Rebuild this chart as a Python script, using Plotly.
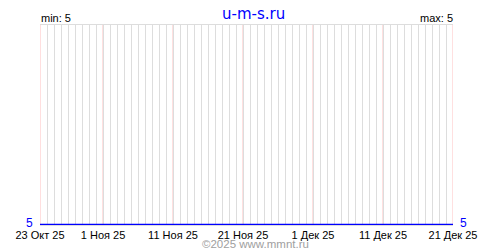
import plotly.graph_objects as go
import pandas as pd

# Data
dates = pd.date_range("2025-10-23", "2025-12-21", freq="D").strftime("%Y-%m-%d").tolist()
values = [5] * len(dates)
tick_vals = ["2025-10-23", "2025-11-01", "2025-11-11", "2025-11-21", "2025-12-01", "2025-12-11", "2025-12-21"]
tick_text = ["23 Окт 25", "1 Ноя 25", "11 Ноя 25", "21 Ноя 25", "1 Дек 25", "11 Дек 25", "21 Дек 25"]
title_text = "u-m-s.ru"
footer_text = "©2025 www.mmnt.ru"
v_min = min(values)
v_max = max(values)

FONT = "Liberation Sans, Arial, sans-serif"
BLUE = "#0000ff"
PINK = "#ffc0c0"
GRAY = "#dddddd"

fig = go.Figure()
fig.add_trace(go.Scatter(x=dates, y=values, mode="lines",
                         line=dict(color=BLUE, width=1.5), hoverinfo="skip"))

yrange = [v_min - 0.0025, v_min + 1]
xrange = [dates[0], dates[-1]]

# pink lines at labelled dates, placed through the x axis scale
for tv in tick_vals:
    fig.add_shape(type="line", xref="x", yref="paper", x0=tv, x1=tv, y0=0, y1=1,
                  line=dict(color=PINK, width=1), layer="below")

fig.update_layout(
    width=500, height=250,
    margin=dict(l=40, r=47, t=25, b=25, autoexpand=False),
    paper_bgcolor="white", plot_bgcolor="white",
    showlegend=False,
    font=dict(family=FONT, size=11, color="black"),
    xaxis=dict(
        type="date", range=xrange,
        tickvals=tick_vals, ticktext=tick_text,
        showgrid=True, gridcolor=GRAY, gridwidth=1,
        minor=dict(dtick=86400000, tick0=dates[0], showgrid=True, gridcolor=GRAY, gridwidth=1),
        showline=True, mirror=True, linecolor=GRAY, linewidth=1,
        ticks="", zeroline=False,
        tickfont=dict(family=FONT, size=11, color="black"),
        fixedrange=True,
    ),
    yaxis=dict(
        range=yrange, showticklabels=False,
        showgrid=False, zeroline=False, ticks="", fixedrange=True,
    ),
    annotations=[
        dict(text=title_text, x=0.5, y=1, xref="paper", yref="paper", xanchor="center", yanchor="top",
             xshift=7, yshift=22, showarrow=False,
             font=dict(family="DejaVu Sans, sans-serif", size=15, color=BLUE)),
        dict(text=f"min: {v_min}", x=0, y=1, xref="paper", yref="paper", xanchor="left", yanchor="bottom",
             showarrow=False, xshift=-1, yshift=-1,
             font=dict(family=FONT, size=11, color="black")),
        dict(text=f"max: {v_max}", x=1, y=1, xref="paper", yref="paper", xanchor="right", yanchor="bottom",
             showarrow=False, xshift=2, yshift=-1,
             font=dict(family=FONT, size=11, color="black")),
        dict(text=str(v_min), x=0, y=v_min, xref="paper", yref="y", xanchor="right", yanchor="middle",
             showarrow=False, xshift=-5, yshift=2,
             font=dict(family=FONT, size=12, color=BLUE)),
        dict(text=str(v_max), x=1, y=v_max, xref="paper", yref="y", xanchor="left", yanchor="middle",
             showarrow=False, xshift=5, yshift=2,
             font=dict(family=FONT, size=12, color=BLUE)),
        dict(text=footer_text, x=0.5, y=0, xref="paper", yref="paper", xanchor="center", yanchor="top",
             showarrow=False, xshift=9, yshift=-11,
             font=dict(family=FONT, size=11.5, color="#a0a0a0")),
    ],
)

fig.write_html("out.html", config=dict(displayModeBar=False))
